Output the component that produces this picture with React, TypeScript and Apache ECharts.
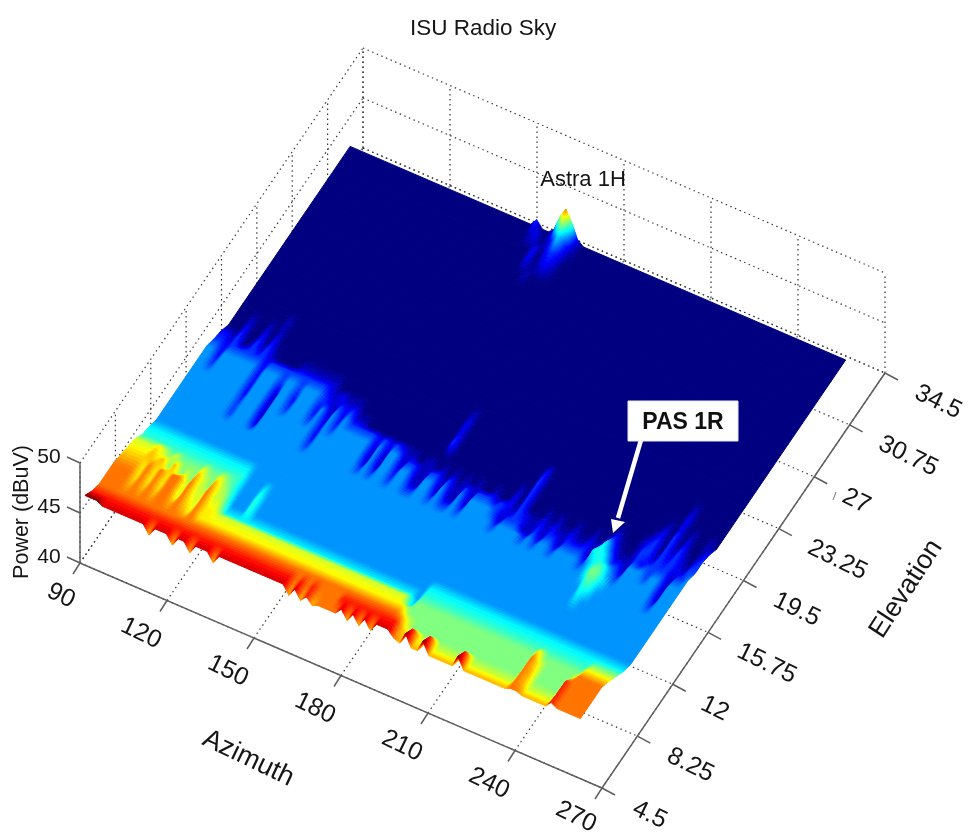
import React, { useEffect, useRef } from "react";
import * as echarts from "echarts";

const TITLE = "ISU Radio Sky";
const AZ_TICKS = [90, 120, 150, 180, 210, 240, 270];
const EL_TICKS = [4.5, 8.25, 12, 15.75, 19.5, 23.25, 27, 30.75, 34.5];
const EL_TICK_LABELS = ["4.5", "8.25", "12", "15.75", "19.5", "23.25", "27", "30.75", "34.5"];
const POWER_TICKS = [40, 45, 50];

// Surface samples: azimuth 87.2 + 2.01 * column, elevation 34 - 0.76 * row.
const AZ_START = 87.2;
const AZ_STEP = 2.01;
const EL_START = 34;
const EL_STEP = -0.76;

const LEVEL_CODES = [".", "a", "b", "c", "B", "d", "e", "G", "f", "Y", "o", "O", "r", "R", "D"];
const LEVEL_POWERS = [40.5, 40.74, 40.98, 41.22, 41.58, 41.94, 42.18, 42.5, 42.82, 43.06, 43.3, 43.54, 43.9, 44.18, 44.5];

const POWER_ROWS = [
  ".......... .......... .......... ..c..bGOGb .......... .......... .......... .......... ......",
  ".......... .......... .......... ..ab.acdca .......... .......... .......... .......... ......",
  ".......... .......... .......... ....b.bcb. .......... .......... .......... .......... ......",
  ".......... .......... .......... ....b.aba. .......... .......... .......... .......... ......",
  ".......... .......... .......... .....a.... .......... .......... .......... .......... ......",
  ".......... .......... .......... .......... .......... .......... .......... .......... ......",
  ".......... .......... .......... .......... .......... .......... .......... .......... ......",
  ".......... .......... .......... .......... .......... .......... .......... .......... ......",
  ".......... .......... .......... .......... .......... .......... .......... .......... ......",
  ".......... .......... .......... .......... .......... .......... .......... .......... ......",
  ".......... .......... .......... .......... .......... .......... .......... .......... ......",
  ".......... .......... .......... .......... .......... .......... .......... .......... ......",
  ".......... .......... .......... .......... .......... .......... .......... .......... ......",
  ".......... .......... .......... .......... .......... .......... .......... .......... ......",
  ".......... .......... .......... .......... .......... .......... .......... .......... ......",
  "........a. .......... .......... .......... .......... .......... .......... .......... ......",
  "...a..a.a. .......... .......... .......... .a........ .......... .......... .........a ......",
  "...b..b.b. .......... .......... .......... .b........ .......... .......... .........b ......",
  "bbac.acaca ....aaaaaa a......... .......... .b........ ......b... .......... .......a.b .a..a.",
  "ccbccccccb cccccccccc babaaa.... .......... .c........ ......c... .......... ......ab.c .b..ab",
  "BBbBBBBBBb BBBcBBcBBB cbacbcaa.. .......... .......... ....a.c... .......... .a...abc.c aca.bc",
  "BBcBBBBBBb BBBaBBbBBB bBaBbBcccc cbcbcbaa.a a.a.a.a.a. .a..b.c... a.a..a..a. aca..accac bcbacc",
  "BBBBBBBBBb BBBaBBcBBB cBbBcBBBBB BaBaBBacca accacaacac ccbcbacbaa babaabaaba cdcaaacbcc ccaccB",
  "BBBBBBBBBc BBBaBBBBBB BBbBBBBBBB BaBaBBbBBa aBBaBaaBaB BBBcacccaa caccacccca dedccaBBBc BBaBBB",
  "BBBBBBBBBc BBBbBBBBBB BBcBBBBBBB BcBcBBcBBc cBBcBccBcB BBBBcBBBBc BcBBcBBBBc BdeeBcBBBB BBaBBB",
  "BBBBBBBBBB BBBBBBBBBB BBBBBBBBBB BBBBBBBBBB BBBBBBBBBB BBBBBBBBBB BBBBBBBBBB BdGGdBBBBB BBcBBB",
  "BBBBBBBBBB BBBBBBBBBB BBBBBBBBBB BBBBBBBBBB BBBBBBBBBB BBBBBBBBBB BBBBBBBBBB BBeeBBBBBB BBBBBB",
  "BBBBBBBBBB BBBBBBBBBB BBBBBBBBBB BBBBBBBBBB BBBBBBBBBB BBBBBBBBBB BBBBBBBBBB BBdBBBBBBB BBBBBB",
  "dddddddddd ddddddddBB BBBBBBBBBB BBBBBBBBBB BBBBBBBBBB BBBBBBBBBB BBBBBBBBBB BBBBBBBBBB BBBBBB",
  "eeeeeeeeee eeeeeeeeBB BdBBBBBBBB BBBBBBBBBB BBBBBBBBBB BBBBBBBBBB BBBBBBBBBB BBBBBBBBBB BBBBBB",
  "ffffYfGfGG GGfGGfGeBB BeBBBBBBBB BBBBBBBBBB BBBBBBBBBB BBBBBBBBBB BBBBBBBBBB BBBBBBBBBB BBBBBB",
  "YYYYoYoGoG fGofGofGBB BeBBBBBBBB BBBBBBBBBB BBBBBBBBBB BBdddddddd dddddddddd dddddddddd dddddd",
  "ooooYOYOYO OfOffOffdd dddddddddd dddddddddd dddddddddd dBeeeeeeee eeeeeeeeee eeeeeeeeee eGGGGG",
  "OOOOYOYOYO OfOYfOYYff ffffffffff ffffffffff ffffffffff fdGGGGGGGG GGGGGGGGGG GGGYGGGGGG GYYYYY",
  "OOOOoOoOoO OoOoYOYYYY YYYYYYYYYY YYYYYYYYYY YYYYYYYYYY YYGGGGGGGG GGGGGGGGGG GGGOYGGGGG YOOOOO",
  "OOOOOOOOOO OOOOOOOOOO OOOOOOOOOO OOOOOOOOOO OOOOOOOOOO OOofGGGGGG GGGGGGGGGG GGGOoGGGGG rOOOOO",
  "rrrrrrrrrr rrrrrrrrrr rrrrrrrrrr rrrrrOrOrO OOOrrrrrrr rrroYrYfrf ffffrfffff fffOofffff rOOOOO",
  "DDDRRRRRRR RoRRRoRRoR RRoRRRRRRR RRRRRoRoro OOOORoRoRo RRROoDooDo ooooDooooo oooOOooooo rOOOOO",
];

const COLUMNS = 86;
const powerGrid: number[][] = POWER_ROWS.map((row) => {
  const cells = row.replace(/ /g, "").padEnd(COLUMNS, ".").slice(0, COLUMNS);
  return Array.from(cells).map((ch) => LEVEL_POWERS[LEVEL_CODES.indexOf(ch)]);
});

const POWER_MIN = 40.5;
const POWER_RANGE = 4;

function project(az: number, el: number, power: number): [number, number] {
  const u = (az - 90) / 180;
  const v = (el - 4.5) / 30;
  return [80 + 522 * u + 283 * v, 563 + 225 * u - 415 * v - 10 * (power - 40)];
}

function jet(t: number): string {
  const clamp = (x: number) => Math.max(0, Math.min(1, x));
  const r = clamp(Math.min(4 * t - 1.5, -4 * t + 4.5));
  const g = clamp(Math.min(4 * t - 0.5, -4 * t + 3.5));
  const b = clamp(Math.min(4 * t + 0.5, -4 * t + 2.5));
  return `rgb(${Math.round(r * 255)},${Math.round(g * 255)},${Math.round(b * 255)})`;
}

// cells: [first column, last column, row] – runs of equal power are merged.
function buildCells(): number[][] {
  const cells: number[][] = [];
  for (let r = 0; r < powerGrid.length - 1; r++) {
    let c = 0;
    while (c < COLUMNS - 1) {
      const p = powerGrid[r][c];
      const flat = (k: number) =>
        powerGrid[r][k] === p && powerGrid[r][k + 1] === p && powerGrid[r + 1][k] === p && powerGrid[r + 1][k + 1] === p;
      if (flat(c)) {
        let e = c + 1;
        while (e < COLUMNS - 1 && flat(e)) e++;
        cells.push([c, e, r]);
        c = e;
      } else {
        cells.push([c, c + 1, r]);
        c++;
      }
    }
  }
  return cells;
}

function surfaceItem(_params: any, api: any) {
  const c0 = api.value(0);
  const c1 = api.value(1);
  const r = api.value(2);
  const at = (c: number, row: number, p: number) =>
    api.coord(project(AZ_START + AZ_STEP * c, EL_START + EL_STEP * row, p));
  const p00 = powerGrid[r][c0];
  const p10 = powerGrid[r][c1];
  const p01 = powerGrid[r + 1][c0];
  const p11 = powerGrid[r + 1][c1];
  const tOf = (p: number) => (p - POWER_MIN) / POWER_RANGE;
  const quad = (pts: number[][], p: number) => {
    const fill = jet(tOf(p));
    return {
      type: "polygon",
      shape: { points: pts },
      style: { fill, stroke: fill, lineWidth: 1, lineJoin: "round" },
      silent: true,
    };
  };
  if (c1 - c0 > 1 || (p00 === p10 && p00 === p01 && p00 === p11)) {
    return quad([at(c0, r, p00), at(c1, r, p00), at(c1, r + 1, p00), at(c0, r + 1, p00)], p00);
  }
  const dc = Math.max(Math.abs(p00 - p10), Math.abs(p01 - p11));
  const dr = Math.max(Math.abs(p00 - p01), Math.abs(p10 - p11));
  const nC = Math.max(2, Math.min(7, Math.ceil(dc / 0.12)));
  const nR = Math.max(2, Math.min(12, Math.ceil(dr / 0.1)));
  const val = (a: number, b: number) =>
    (1 - a) * (1 - b) * p00 + a * (1 - b) * p10 + (1 - a) * b * p01 + a * b * p11;
  const children: any[] = [];
  for (let i = 0; i < nR; i++) {
    for (let j = 0; j < nC; j++) {
      const a0 = j / nC;
      const a1 = (j + 1) / nC;
      const b0 = i / nR;
      const b1 = (i + 1) / nR;
      children.push(
        quad(
          [
            at(c0 + a0, r + b0, val(a0, b0)),
            at(c0 + a1, r + b0, val(a1, b0)),
            at(c0 + a1, r + b1, val(a1, b1)),
            at(c0 + a0, r + b1, val(a0, b1)),
          ],
          val((a0 + a1) / 2, (b0 + b1) / 2)
        )
      );
    }
  }
  return { type: "group", children, silent: true };
}

function buildDottedGrid(): number[][] {
  const s: number[][] = [];
  const azA = AZ_TICKS[0];
  const azB = AZ_TICKS[AZ_TICKS.length - 1];
  const elA = EL_TICKS[0];
  const elB = EL_TICKS[EL_TICKS.length - 1];
  const pA = POWER_TICKS[0];
  const pB = POWER_TICKS[POWER_TICKS.length - 1];
  AZ_TICKS.forEach((az) => {
    s.push([az, elA, pA, az, elB, pA]);
    s.push([az, elB, pA, az, elB, pB]);
  });
  EL_TICKS.forEach((el) => {
    s.push([azA, el, pA, azB, el, pA]);
    s.push([azA, el, pA, azA, el, pB]);
  });
  POWER_TICKS.forEach((p) => {
    s.push([azA, elB, p, azB, elB, p]);
    s.push([azA, elA, p, azA, elB, p]);
  });
  return s;
}

function dottedItem(_p: any, api: any) {
  const a = api.coord(project(api.value(0), api.value(1), api.value(2)));
  const b = api.coord(project(api.value(3), api.value(4), api.value(5)));
  return {
    type: "line",
    shape: { x1: a[0], y1: a[1], x2: b[0], y2: b[1] },
    style: { stroke: "#333333", lineWidth: 1.2, lineDash: [1.4, 3.6] },
    silent: true,
  };
}

const AXIS_COLOR = "#5e5e5e";
const TEXT_COLOR = "#151515";
const FONT = '"Liberation Sans", Arial, sans-serif';
const LABEL_ROTATION = (-26 * Math.PI) / 180;

function axisLine(a: number[], b: number[]) {
  return {
    type: "line",
    shape: { x1: a[0], y1: a[1], x2: b[0], y2: b[1] },
    style: { stroke: AXIS_COLOR, lineWidth: 1.5 },
    silent: true,
  };
}

function tickText(text: string, x: number, y: number, size: number, rotation: number) {
  return {
    type: "text",
    x,
    y,
    rotation,
    style: {
      text,
      x: 0,
      y: 0,
      align: "center",
      verticalAlign: "middle",
      fill: TEXT_COLOR,
      font: `${size}px ${FONT}`,
    },
    silent: true,
  };
}

function axesItem(params: any, api: any) {
  if (params.dataIndex !== 0) return null;
  const azA = AZ_TICKS[0];
  const azB = AZ_TICKS[AZ_TICKS.length - 1];
  const elA = EL_TICKS[0];
  const elB = EL_TICKS[EL_TICKS.length - 1];
  const pA = POWER_TICKS[0];
  const pB = POWER_TICKS[POWER_TICKS.length - 1];
  const c = (az: number, el: number, p: number) => api.coord(project(az, el, p));
  const children: any[] = [
    axisLine(c(azA, elA, pA), c(azB, elA, pA)),
    axisLine(c(azB, elA, pA), c(azB, elB, pA)),
    axisLine(c(azA, elA, pA), c(azA, elA, pB)),
  ];
  AZ_TICKS.forEach((az) => {
    const a = c(az, elA, pA);
    children.push(axisLine(a, [a[0] - 7, a[1] + 11]));
    const dx = String(az).length < 3 ? -18 : -25;
    const dy = az === azB ? 27 : 31;
    children.push(tickText(String(az), a[0] + dx, a[1] + dy, 25, LABEL_ROTATION));
  });
  EL_TICKS.forEach((el, i) => {
    const a = c(azB, el, pA);
    children.push(axisLine(a, [a[0] + 13, a[1] + 7]));
    const label = EL_TICK_LABELS[i];
    children.push(
      tickText(label, a[0] + 32 + 5.5 * label.length, a[1] + 18 + 2.3 * label.length, 25, LABEL_ROTATION)
    );
  });
  POWER_TICKS.forEach((p) => {
    const a = c(azA, elA, p);
    children.push(axisLine(a, [a[0] - 13, a[1] - 6]));
    children.push(tickText(String(p), 49, a[1] - 8, 21, 0));
  });
  return { type: "group", children, silent: true };
}

function graphicText(text: string, x: number, y: number, font: string, rotationDeg: number, fill = TEXT_COLOR) {
  return {
    type: "text",
    x,
    y,
    rotation: (rotationDeg * Math.PI) / 180,
    silent: true,
    z: 20,
    style: { text, x: 0, y: 0, align: "center", verticalAlign: "middle", fill, font },
  };
}

export default function App() {
  const ref = useRef<HTMLDivElement>(null);
  useEffect(() => {
    document.body.style.margin = "0";
    document.body.style.background = "#ffffff";
    const chart = echarts.init(ref.current!, undefined, { renderer: "svg" });
    const cells = buildCells();
    chart.setOption({
      animation: false,
      backgroundColor: "#ffffff",
      title: {
        text: TITLE,
        left: 405,
        top: 11,
        textStyle: { color: TEXT_COLOR, fontSize: 22.5, fontWeight: "normal", fontFamily: FONT },
      },
      grid: { left: 0, right: 0, top: 0, bottom: 0 },
      xAxis: { type: "value", min: 0, max: 968, show: false },
      yAxis: { type: "value", min: 0, max: 839, inverse: true, show: false },
      series: [
        {
          type: "custom",
          name: "grid",
          coordinateSystem: "cartesian2d",
          renderItem: dottedItem,
          data: buildDottedGrid(),
          encode: { x: 0, y: 1 },
          clip: false,
          silent: true,
          z: 1,
        },
        {
          type: "custom",
          name: "axes",
          coordinateSystem: "cartesian2d",
          renderItem: axesItem,
          data: [[0, 0]],
          encode: { x: 0, y: 1 },
          clip: false,
          silent: true,
          z: 2,
        },
        {
          type: "custom",
          name: "Power",
          coordinateSystem: "cartesian2d",
          renderItem: surfaceItem,
          data: cells,
          encode: { x: 0, y: 1 },
          progressive: 0,
          clip: false,
          silent: true,
          z: 3,
        },
      ],
      graphic: [
        graphicText("Power (dBuV)", 21, 512, `21.5px ${FONT}`, 90),
        graphicText("Azimuth", 249, 757, `27px ${FONT}`, -25.5),
        graphicText("Elevation", 905, 588, `27px ${FONT}`, 57),
        graphicText("Astra 1H", 583, 178, `22px ${FONT}`, 0),
        {
          type: "line",
          silent: true,
          z: 19,
          shape: { x1: 836, y1: 492, x2: 833, y2: 500 },
          style: { stroke: "#777777", lineWidth: 1 },
        },
        {
          type: "line",
          silent: true,
          z: 19,
          shape: { x1: 641, y1: 440, x2: 618, y2: 518 },
          style: { stroke: "#ffffff", lineWidth: 4.5 },
        },
        {
          type: "polygon",
          silent: true,
          z: 19,
          shape: { points: [[613, 533], [611, 519], [625, 522]] },
          style: { fill: "#ffffff" },
        },
        {
          type: "rect",
          silent: true,
          z: 19,
          shape: { x: 628, y: 401, width: 110, height: 40 },
          style: { fill: "#ffffff", stroke: "#e8e8f0", lineWidth: 1 },
        },
        graphicText("PAS 1R", 683, 421, `bold 23px ${FONT}`, 0, "#111111"),
      ],
    });
    return () => chart.dispose();
  }, []);
  return <div ref={ref} style={{ width: 968, height: 839, filter: "blur(0.4px)" }} />;
}
